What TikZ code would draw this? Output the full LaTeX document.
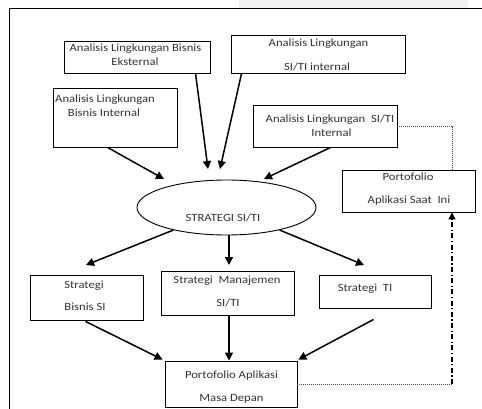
\documentclass[tikz,border=0pt]{standalone}
\usepackage{fontspec}
\newfontfamily\dfont[FakeStretch=1.15]{Carlito}
\usetikzlibrary{arrows.meta,shapes.geometric}
\definecolor{txtgray}{HTML}{333333}
\begin{document}
\begin{tikzpicture}[x=1pt,y=-1pt,
  box/.style={draw=black,line width=0.9pt,inner sep=0pt,rectangle},
  ovalbox/.style={draw=black,line width=0.9pt,inner sep=0pt,ellipse},
  txt/.style={inner sep=0pt,anchor=base,font=\dfont\fontsize{11}{13}\selectfont,text=txtgray},
  arr/.style={line width=1.5pt,-{Triangle[length=8pt,width=8pt]}},
  dotline/.style={line width=0.8pt,draw=black!70,dash pattern=on 1pt off 1pt},
  dashdotline/.style={line width=1.2pt,dash pattern=on 5pt off 2.5pt on 1.2pt off 2.5pt,-{Triangle[length=7pt,width=7pt]}}
]
\useasboundingbox (0,0) rectangle (482,409);
\fill[black!5] (239,0) rectangle (468,8);
\draw[line width=1pt] (482,9) -- (9,9) -- (9,409);

% boxes
\node[box,minimum width=146pt,minimum height=32pt] (b1) at (137,57) {};
\node[box,minimum width=174pt,minimum height=38pt] (b2) at (318,54) {};
\node[box,minimum width=124pt,minimum height=59pt] (b3) at (115,117.5) {};
\node[box,minimum width=144pt,minimum height=42pt] (b4) at (325,126) {};
\node[box,minimum width=133pt,minimum height=42pt] (b5) at (408.5,191) {};
\node[ovalbox,minimum width=179pt,minimum height=55pt] (ell) at (226.5,207.5) {};
\node[box,minimum width=113pt,minimum height=45pt] (b7) at (86.5,297.5) {};
\node[box,minimum width=133pt,minimum height=44pt] (b8) at (227.5,293) {};
\node[box,minimum width=112pt,minimum height=33pt] (b9) at (375,291.5) {};
\node[box,minimum width=132pt,minimum height=46pt] (b10) at (231,384) {};

% texts
\node[txt] (t1a) at (135.5,51.5) {Analisis Lingkungan Bisnis};
\node[txt] (t1b) at (135,66) {Eksternal};
\node[txt] (t2a) at (318.5,46.5) {Analisis Lingkungan};
\node[txt] (t2b) at (317,70.5) {SI/TI internal};
\node[txt] (t3a) at (105,102.5) {Analisis Lingkungan};
\node[txt] (t3b) at (104,116.5) {Bisnis Internal};
\node[txt] (t4a) at (330,122.5) {Analisis Lingkungan\ \ SI/TI};
\node[txt] (t4b) at (331.5,136.5) {Internal};
\node[txt] (t5a) at (408,180.5) {Portofolio};
\node[txt] (t5b) at (409,203) {Aplikasi Saat\ \ Ini};
\node[txt] (te) at (223,221.5) {STRATEGI SI/TI};
\node[txt] (t7a) at (84,288.5) {Strategi};
\node[txt] (t7b) at (85,310.5) {Bisnis SI};
\node[txt] (t8a) at (227,283.5) {Strategi\ \ Manajemen};
\node[txt] (t8b) at (228,306.5) {SI/TI};
\node[txt] (t9) at (365,291.5) {Strategi\ \ TI};
\node[txt] (t10a) at (231.5,378.5) {Portofolio Aplikasi};
\node[txt] (t10b) at (231.5,401) {Masa Depan};

% arrow tips (free ends)
\coordinate (p1) at (208,169);
\coordinate (p2) at (220,169);
\coordinate (p3) at (164,179);
\coordinate (p4) at (264,179);
\coordinate (p5) at (86,265);
\coordinate (p6) at (229,265);
\coordinate (p7) at (364,265);

% arrows into ellipse
\draw[arr] ([xshift=132pt]b1.south west) -- (p1);
\draw[arr] ([xshift=11pt]b2.south west) -- (p2);
\draw[arr] ([xshift=55pt]b3.south west) -- (p3);
\draw[arr] ([xshift=78pt]b4.south west) -- (p4);

% arrows out of ellipse
\draw[arr] (ell.203) -- (p5);
\draw[arr] ([xshift=2.5pt]ell.south) -- (p6);
\draw[arr] (ell.-23) -- (p7);

% arrows into future portfolio
\draw[arr] ([xshift=56pt,yshift=-1pt]b7.south west) -- ([xshift=-2pt,yshift=1pt]b10.north west);
\draw[arr] ([xshift=1.5pt]b8.south) -- ([xshift=-2pt]b10.north);
\draw[arr] ([xshift=55pt,yshift=-11pt]b9.south west) -- ([xshift=1pt,yshift=1pt]b10.north east);

% dotted / dash-dot links
\draw[dotline] (b4.east) -| ([xshift=43.5pt]b5.north);
\coordinate (corner) at ([xshift=43.5pt]b5.south |- b10.east);
\draw[dotline] (b10.east) -- (corner);
\draw[dashdotline] (corner) -- ([xshift=43.5pt]b5.south);
\end{tikzpicture}
\end{document}
